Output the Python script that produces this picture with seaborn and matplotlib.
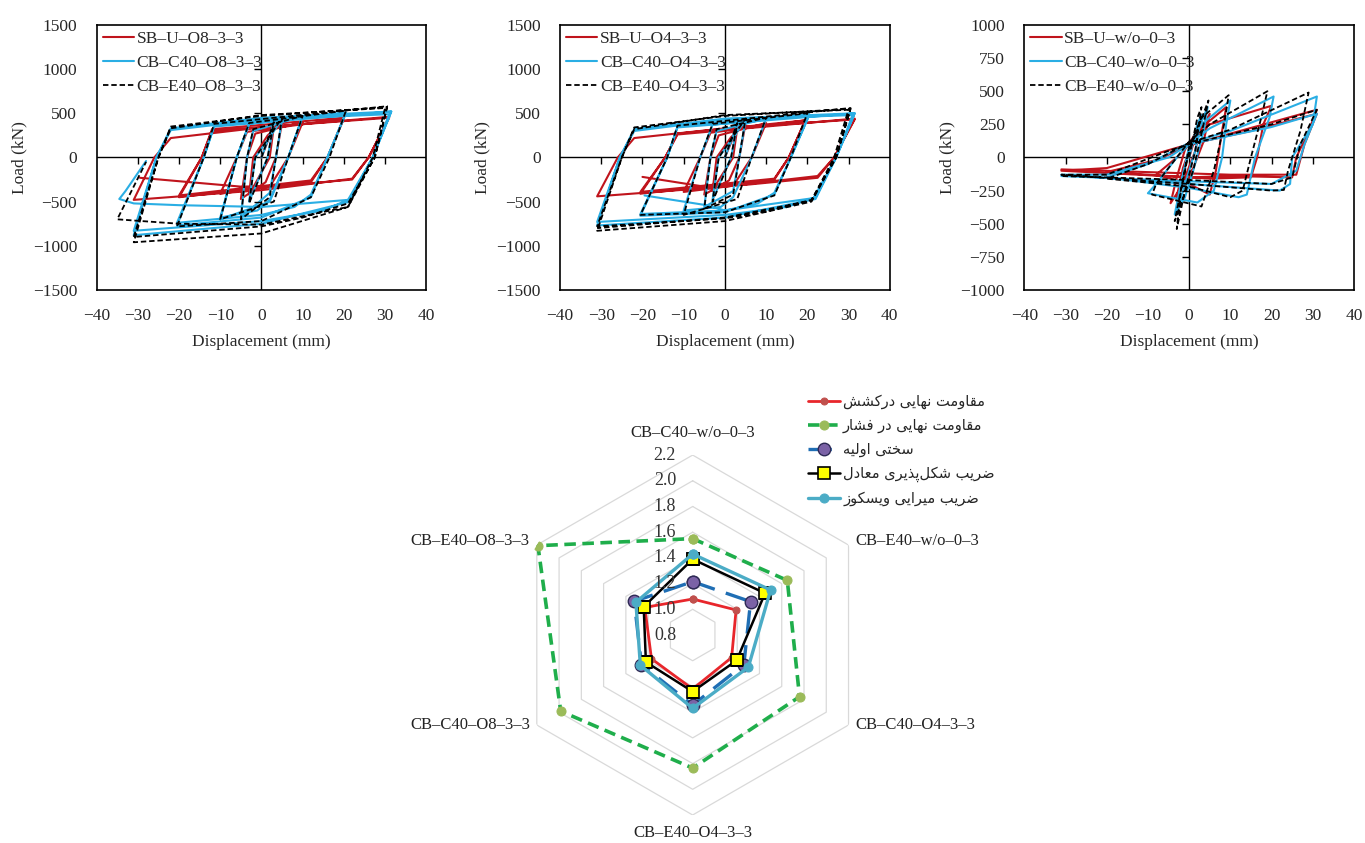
"""Hysteresis curves of the three beam groups and a radar chart of normalised indices."""

import matplotlib

matplotlib.use("Agg")

import matplotlib.pyplot as plt
import numpy as np
import seaborn as sns

# ---------------------------------------------------------------- data
# hysteresis traces, (displacement mm, load kN)
O8_SB_U = [
    (0, 0), (2.5, 300), (3, 350), (2, 0), (-2.5, -380), (-3, -420), (-2, 0), (1.5, 250),
    (5, 400), (3.5, 0), (1, -280), (-5, -470), (-3.5, 0), (-1.5, 270),
    (10, 400), (6.5, 0), (2, -330), (-10, -410), (-6, 0), (-3.5, 290),
    (20, 440), (16, 0), (12, -260), (-20, -430), (-14.5, 0), (-12, 320),
    (20, 450), (16, 0), (12, -280), (-20, -450), (-14.5, 0), (-12, 300),
    (31, 450), (26, 0), (22, -240), (0, -370), (-31, -480), (-26, 0), (-22, 220), (0, 340),
    (31, 460), (26, 0), (22, -250), (5, -320), (-5, -330), (-29.5, -230),
]
O8_CB_C40 = [
    (0, 0), (3, 380), (1.5, 0), (-3, -500), (-1.5, 0),
    (5, 430), (3.5, 0), (2, -400), (-5, -680), (-3.5, 0), (-2, 300),
    (10, 470), (6.5, 0), (2, -480), (-1, -600), (-10, -680), (-6, 0), (-3, 380),
    (10, 470), (6.5, 0), (2, -500), (-10, -700), (-6, 0), (-3, 380),
    (20.5, 500), (16, 0), (12, -420), (8, -560), (0, -650), (-20.5, -740), (-14, 0), (-11.5, 360),
    (20.5, 510), (16, 0), (12, -450), (0, -680), (-20.5, -770), (-14, 0), (-11.5, 350),
    (31.5, 520), (27, 0), (21.5, -470), (15, -600), (0, -720), (-31, -830), (-25.5, 0), (-22, 330), (0, 450),
    (31.5, 520), (27, 0), (21.5, -500), (0, -750), (-31, -880), (-25.5, 0), (-22, 310), (0, 430),
    (31, 490), (27, 0), (21, -480), (0, -560), (-20, -540), (-31, -520), (-34.5, -470), (-33, -380), (-28, -40),
]
O8_CB_E40 = [
    (0, 0), (3, 400), (1.5, 0), (-3, -520), (-1.5, 0),
    (5, 450), (3.5, 0), (2, -450), (-5, -700), (-3.5, 0), (-2, 320),
    (10, 470), (6.5, 0), (3, -500), (-10, -700), (-6, 0), (-3, 390),
    (20.5, 530), (16.5, 0), (12, -450), (0, -720), (-20.5, -780), (-14, 0), (-11.5, 380),
    (30.5, 580), (27.5, 0), (21, -520), (10, -680), (0, -780), (-31, -900), (-25, 0), (-22, 350), (0, 470),
    (30.5, 570), (27.5, 0), (21, -560), (0, -860), (-31, -960), (-25, 0), (-22, 330), (0, 480),
    (30, 560), (27, 0), (21, -560), (0, -760), (-20, -750), (-35, -700), (-28, -50),
]

O4_SB_U = [
    (0, 0), (2.5, 280), (3, 330), (2, 0), (-2.5, -330), (-3, -380), (-2, 0), (1.5, 230),
    (5, 380), (3.5, 0), (1, -260), (-5, -420), (-3.5, 0), (-1.5, 250),
    (10, 390), (6.5, 0), (2, -320), (-10, -390), (-6, 0), (-3.5, 280),
    (19.5, 420), (15.5, 0), (12, -240), (-20.5, -390), (-14.5, 0), (-11.5, 270),
    (19.5, 420), (15.5, 0), (12, -250), (-20.5, -410), (-14.5, 0), (-11.5, 260),
    (31.5, 440), (26.5, 0), (22.5, -210), (0, -330), (-31, -440), (-26, 0), (-22, 220), (0, 330),
    (31.5, 430), (26.5, 0), (22.5, -230), (5, -310), (-5, -330), (-20, -220),
]
O4_CB_C40 = [
    (0, 0), (3, 370), (1.5, 0), (-3, -480), (-1.5, 0),
    (5, 420), (3.5, 0), (2, -380), (-5, -560), (-3.5, 0), (-2, 300),
    (10, 440), (6.5, 0), (2, -450), (-1, -560), (-10, -600), (-6, 0), (-3, 370),
    (20.5, 480), (16, 0), (12, -400), (8, -520), (0, -600), (-20.5, -640), (-14, 0), (-11.5, 350),
    (20.5, 490), (16, 0), (12, -420), (0, -620), (-20.5, -660), (-14, 0), (-11.5, 340),
    (31.5, 500), (27, 0), (22, -450), (15, -560), (0, -650), (-31, -730), (-25.5, 0), (-22, 320), (0, 440),
    (31.5, 500), (27, 0), (22, -470), (0, -680), (-31, -770), (-25.5, 0), (-22, 300), (0, 430),
    (31, 480), (27, 0), (21.5, -460), (0, -600), (-4.5, -540), (-19.5, -430),
]
O4_CB_E40 = [
    (0, 0), (3, 390), (1.5, 0), (-3, -500), (-1.5, 0),
    (5, 440), (3.5, 0), (2, -420), (-5, -580), (-3.5, 0), (-2, 320),
    (10, 450), (6.5, 0), (3, -470), (-10, -650), (-6, 0), (-3, 380),
    (20, 500), (16, 0), (12, -430), (0, -620), (-20.5, -650), (-14, 0), (-11.5, 360),
    (30.5, 560), (27, 0), (21, -480), (10, -610), (0, -690), (-31, -780), (-25, 0), (-22, 340), (0, 470),
    (30.5, 550), (27, 0), (21, -500), (0, -720), (-31, -830), (-25, 0), (-22, 320), (0, 480),
    (30, 540), (26.5, 0), (21, -490), (0, -680), (-31, -800),
]

WO_SB_U = [
    (0, 0), (2, 200), (3, 280), (1.5, 50), (-1, -150), (-3, -300), (-1.5, -80), (0, 50),
    (5, 330), (3.5, 120), (1, -80), (-4.5, -345), (-3, -150), (-1, 60), (2, 200),
    (9, 380), (8, 200), (6.5, -100), (5, -280), (0, -200), (-8, -130), (-3, 0), (0, 100), (5, 250),
    (20, 390), (18, 250), (16.5, 0), (15, -150), (5, -160), (-20, -110), (-8, -20), (0, 90), (10, 180),
    (31, 360), (29, 200), (26, 0), (25, -150), (10, -140), (0, -150), (-31, -100), (-20, -80),
    (0, 100), (15, 200), (31, 330), (28, 100), (26, -130), (10, -130), (-31, -90),
]
WO_CB_C40 = [
    (0, 0), (2, 250), (3, 320), (1.5, 50), (-1, -200), (-3, -420), (-2, -200), (0, 50),
    (4.5, 380), (3.5, 200), (1, -100), (-1, -300), (-3.5, -430), (-2, -200), (0, 80), (3, 250),
    (10, 430), (9, 250), (8, 0), (6, -250), (2, -340), (-10, -270), (-8, -200), (-3, 0), (0, 100), (5, 220),
    (20.5, 460), (19.5, 300), (16, 0), (14, -280), (12, -300), (0, -230), (-20, -150), (-10, -50),
    (0, 110), (10, 200),
    (31, 460), (30, 250), (25, 0), (24.5, -200), (22, -250), (0, -200), (-31, -130), (-20, -130),
    (-5, 0), (0, 100), (20, 230), (31, 330), (28, 100), (26, -100), (20, -200), (0, -180), (-31, -140),
]
WO_CB_E40 = [
    (0, 0), (2, 300), (3, 380), (1.5, 50), (-1, -250), (-3, -540), (-2, -250), (0, 50),
    (4.7, 430), (3.5, 250), (1, -100), (-2, -350), (-3.5, -480), (-2, -250), (0, 80), (3, 300),
    (9.6, 470), (8.5, 250), (6, -100), (3, -370), (-9, -280), (-8, -200), (-3, 0), (0, 120), (5, 250),
    (19, 500), (17.5, 300), (15, 0), (13, -250), (10, -300), (0, -220), (-20, -160), (-10, -50),
    (0, 110), (10, 210),
    (29, 490), (27, 200), (24, -100), (23, -245), (20, -250), (0, -200), (-31, -130), (-20, -130),
    (-5, 50), (0, 100), (20, 250), (31, 360), (27, 100), (25, -150), (20, -200), (0, -170), (-31, -140),
]

LABELS_O8 = ["SB–U–O8–3–3", "CB–C40–O8–3–3", "CB–E40–O8–3–3"]
LABELS_O4 = ["SB–U–O4–3–3", "CB–C40–O4–3–3", "CB–E40–O4–3–3"]
LABELS_WO = ["SB–U–w/o–0–3", "CB–C40–w/o–0–3", "CB–E40–w/o–0–3"]

X_TICKS = [-40, -30, -20, -10, 0, 10, 20, 30, 40]
Y_TICKS_1500 = [-1500, -1000, -500, 0, 500, 1000, 1500]
Y_TICKS_1000 = [-1000, -750, -500, -250, 0, 250, 500, 750, 1000]

# radar chart: normalised indices per specimen
RADAR_CATEGORIES = [
    "CB–C40–w/o–0–3", "CB–E40–w/o–0–3", "CB–C40–O4–3–3",
    "CB–E40–O4–3–3", "CB–C40–O8–3–3", "CB–E40–O8–3–3",
]
TENSION = [1.08, 1.19, 1.15, 1.22, 1.17, 1.23]
COMPRESSION = [1.55, 1.65, 1.76, 1.835, 1.985, 2.19]
STIFFNESS = [1.215, 1.32, 1.26, 1.345, 1.26, 1.325]
DUCTILITY = [1.39, 1.45, 1.195, 1.24, 1.22, 1.24]
DAMPING = [1.43, 1.50, 1.30, 1.37, 1.27, 1.31]
RADAR_LEVELS = [0.8, 1.0, 1.2, 1.4, 1.6, 1.8, 2.0, 2.2]
RADAR_NAMES = [
    "مقاومت نهایی درکشش",
    "مقاومت نهایی در فشار",
    "سختی اولیه",
    "ضریب شکل\u200cپذیری معادل",
    "ضریب میرایی ویسکوز",
]

RED = "#c0141c"
CYAN = "#2aaee4"

# ---------------------------------------------------------------- helpers
# presentation forms: isolated, final, initial, medial
FORMS = {
    "ا": ("\uFE8D", "\uFE8E", None, None),
    "ب": ("\uFE8F", "\uFE90", "\uFE91", "\uFE92"),
    "پ": ("\uFB56", "\uFB57", "\uFB58", "\uFB59"),
    "ت": ("\uFE95", "\uFE96", "\uFE97", "\uFE98"),
    "خ": ("\uFEA5", "\uFEA6", "\uFEA7", "\uFEA8"),
    "د": ("\uFEA9", "\uFEAA", None, None),
    "ذ": ("\uFEAB", "\uFEAC", None, None),
    "ر": ("\uFEAD", "\uFEAE", None, None),
    "ز": ("\uFEAF", "\uFEB0", None, None),
    "س": ("\uFEB1", "\uFEB2", "\uFEB3", "\uFEB4"),
    "ش": ("\uFEB5", "\uFEB6", "\uFEB7", "\uFEB8"),
    "ض": ("\uFEBD", "\uFEBE", "\uFEBF", "\uFEC0"),
    "ع": ("\uFEC9", "\uFECA", "\uFECB", "\uFECC"),
    "ف": ("\uFED1", "\uFED2", "\uFED3", "\uFED4"),
    "ق": ("\uFED5", "\uFED6", "\uFED7", "\uFED8"),
    "ک": ("\uFB8E", "\uFB8F", "\uFB90", "\uFB91"),
    "ل": ("\uFEDD", "\uFEDE", "\uFEDF", "\uFEE0"),
    "م": ("\uFEE1", "\uFEE2", "\uFEE3", "\uFEE4"),
    "ن": ("\uFEE5", "\uFEE6", "\uFEE7", "\uFEE8"),
    "ه": ("\uFEE9", "\uFEEA", "\uFEEB", "\uFEEC"),
    "و": ("\uFEED", "\uFEEE", None, None),
    "ی": ("\uFBFC", "\uFBFD", "\uFBFE", "\uFBFF"),
}


def shape_fa(text):
    """Join Persian letters and put them in visual (left-to-right) order."""
    out = []
    for i, ch in enumerate(text):
        if ch not in FORMS:
            if ch != "\u200c":
                out.append(ch)
            continue
        prev = text[i - 1] if i > 0 else ""
        nxt = text[i + 1] if i + 1 < len(text) else ""
        join_prev = prev in FORMS and FORMS[prev][2] is not None
        join_next = FORMS[ch][2] is not None and nxt in FORMS
        iso, fin, ini, med = FORMS[ch]
        if join_prev and join_next:
            out.append(med)
        elif join_prev:
            out.append(fin)
        elif join_next:
            out.append(ini)
        else:
            out.append(iso)
    return "".join(reversed(out))


def split(points):
    arr = np.asarray(points, dtype=float)
    return arr[:, 0], arr[:, 1]


def hysteresis_panel(ax, traces, labels, yticks):
    styles = [
        dict(color=RED, linewidth=1.5, linestyle="-"),
        dict(color=CYAN, linewidth=1.5, linestyle="-"),
        dict(color="black", linewidth=1.3, linestyle=(0, (3, 1.6))),
    ]
    for trace, label, style in zip(traces, labels, styles):
        x, y = split(trace)
        sns.lineplot(x=x, y=y, sort=False, estimator=None, ax=ax, label=label, **style)

    ax.set_xlim(X_TICKS[0], X_TICKS[-1])
    ax.set_ylim(yticks[0], yticks[-1])
    ax.set_xticks(X_TICKS)
    ax.set_yticks(yticks)
    ax.tick_params(length=0, labelsize=12.5, pad=13)
    ax.tick_params(axis="y", pad=14)
    ax.axhline(0, color="black", linewidth=1.0, zorder=1)
    ax.axvline(0, color="black", linewidth=1.0, zorder=1)
    inner_x = [t for t in X_TICKS[1:-1] if t != 0]
    inner_y = [t for t in yticks[1:-1] if t != 0]
    ax.plot(inner_x, [0] * len(inner_x), linestyle="none", marker=3,
            markersize=5, markeredgewidth=1.0, color="black")
    ax.plot([0] * len(inner_y), inner_y, linestyle="none", marker=0,
            markersize=5, markeredgewidth=1.0, color="black")
    for spine in ax.spines.values():
        spine.set_visible(True)
        spine.set_color("black")
        spine.set_linewidth(1.2)
    ax.set_xlabel("Displacement (mm)", fontsize=12.5, labelpad=7)
    ax.set_ylabel("Load (kN)", fontsize=12.5, labelpad=4)
    ax.legend(loc="upper left", bbox_to_anchor=(0.0, 1.0), frameon=False,
              fontsize=12.5, handlelength=1.8, handletextpad=0.15,
              labelspacing=0.45, borderpad=0.25, borderaxespad=0.1)


# ---------------------------------------------------------------- figure
sns.set_theme(style="white")
plt.rcParams["font.family"] = ["Liberation Serif", "DejaVu Sans"]
plt.rcParams["axes.unicode_minus"] = True

fig = plt.figure(figsize=(13.65, 8.43), dpi=100)
fig.patch.set_facecolor("white")

panel_specs = [
    (0.0708, [O8_SB_U, O8_CB_C40, O8_CB_E40], LABELS_O8, Y_TICKS_1500),
    (0.4103, [O4_SB_U, O4_CB_C40, O4_CB_E40], LABELS_O4, Y_TICKS_1500),
    (0.7504, [WO_SB_U, WO_CB_C40, WO_CB_E40], LABELS_WO, Y_TICKS_1000),
]
for left, traces, labels, yticks in panel_specs:
    ax = fig.add_axes([left, 0.656, 0.2415, 0.3144])
    hysteresis_panel(ax, traces, labels, yticks)

# radar chart
rax = fig.add_axes([0.3756, 0.0332, 0.2637, 0.427], projection="polar")
rax.set_theta_offset(np.pi / 2)
rax.set_theta_direction(-1)
angles = np.linspace(0, 2 * np.pi, len(RADAR_CATEGORIES), endpoint=False)
closed = np.append(angles, angles[0])

for level in RADAR_LEVELS[1:]:
    rax.plot(closed, [level] * len(closed), color="#d9d9d9", linewidth=0.9, zorder=1)

radar_styles = [
    (TENSION, dict(color="#e8262b", linewidth=2.0, linestyle="-", marker="o", markersize=5,
                   markerfacecolor="#c0504d", markeredgecolor="#c0504d")),
    (COMPRESSION, dict(color="#1fae4b", linewidth=2.6, linestyle=(0, (3.2, 1.8)), marker="o",
                       markersize=6.5, markerfacecolor="#9bbb59", markeredgecolor="#9bbb59")),
    (STIFFNESS, dict(color="#1f6eb4", linewidth=2.4, linestyle=(0, (7, 3.5)), marker="o",
                     markersize=9, markerfacecolor="#7b62a6", markeredgecolor="#2e2a55",
                     markeredgewidth=1.0)),
    (DUCTILITY, dict(color="black", linewidth=1.8, linestyle="-", marker="s", markersize=9,
                     markerfacecolor="#ffff00", markeredgecolor="black", markeredgewidth=1.2)),
    (DAMPING, dict(color="#4bacc6", linewidth=2.4, linestyle="-", marker="o", markersize=6.5,
                   markerfacecolor="#4bacc6", markeredgecolor="#4bacc6")),
]
handles = []
for (values, style), name in zip(radar_styles, RADAR_NAMES):
    r = np.append(values, values[0])
    sns.lineplot(x=closed, y=r, sort=False, estimator=None, ax=rax, zorder=3, **style)
    handles.append(rax.lines[-1])

rax.set_ylim(RADAR_LEVELS[0], RADAR_LEVELS[-1])
rax.grid(False)
rax.spines["polar"].set_visible(False)
rax.set_xticks([])
rax.set_yticks([])
rax.set_xlabel("")
rax.set_ylabel("")
rax.set_facecolor("none")

for level in RADAR_LEVELS:
    rax.annotate(f"{level:.1f}", xy=(0, level), xytext=(-12, 0), textcoords="offset points",
                 ha="right", va="center", fontsize=13, color="#333333")

label_offsets = [
    ((0, 16), "center"), ((5, 3), "left"), ((5, 0), "left"),
    ((0, -13), "center"), ((-5, 0), "right"), ((-5, 3), "right"),
]
for ang, name, (offset, ha) in zip(angles, RADAR_CATEGORIES, label_offsets):
    rax.annotate(name, xy=(ang, RADAR_LEVELS[-1]), xytext=offset, textcoords="offset points",
                 ha=ha, va="center", fontsize=12, color="#222222", annotation_clip=False)

fig.legend(handles, [shape_fa(n) for n in RADAR_NAMES], loc="upper left",
           bbox_to_anchor=(795 / 1365, 1 - 381 / 843), frameon=False,
           handlelength=2.2, handletextpad=0.2, labelspacing=0.6,
           prop={"family": ["DejaVu Sans"], "size": 10.5})

fig.savefig("out.png", dpi=100, facecolor="white")
